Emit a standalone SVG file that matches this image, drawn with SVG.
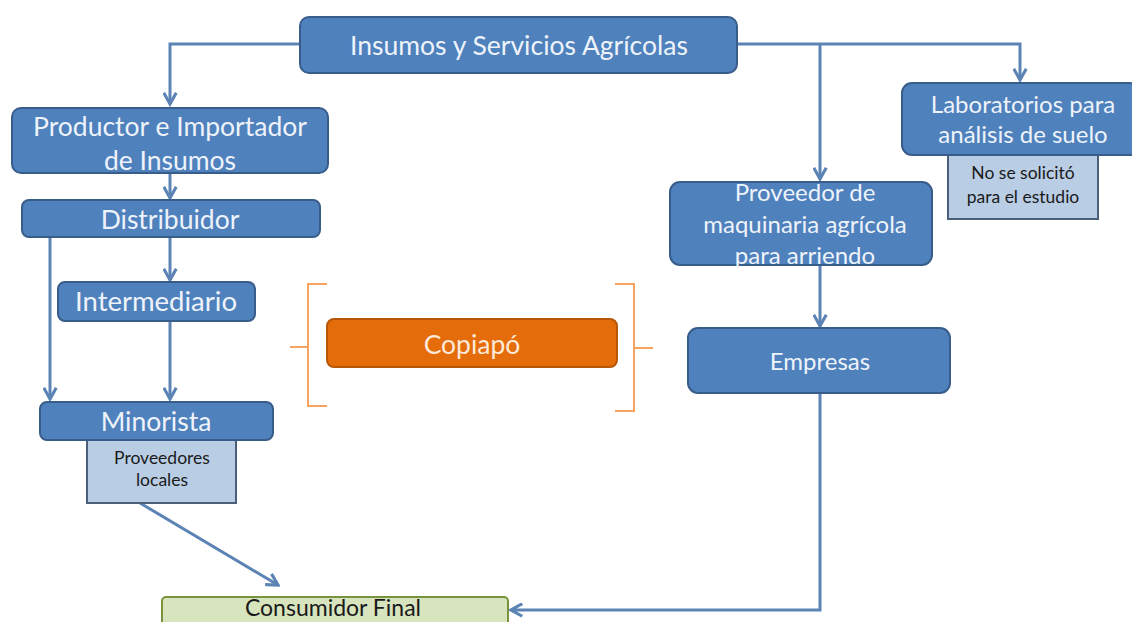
<svg xmlns="http://www.w3.org/2000/svg" width="1132" height="622" viewBox="0 0 1132 622">
<defs>
<style>
.box{fill:#4f81bd;stroke:#385d8a;stroke-width:2}
.sub{fill:#b9cde5;stroke:#4a5f7a;stroke-width:2}
.t{font-family:Lato,"Open Sans",sans-serif;fill:#eef3fa;text-anchor:middle;font-size:26.5px}
.r{font-size:24px}
.s{font-family:Lato,"Open Sans",sans-serif;fill:#1a1a1a;text-anchor:middle;font-size:17.5px}
.c{fill:none;stroke:#5b84b5;stroke-width:3}
.br{fill:none;stroke:#f4a460;stroke-width:2}
</style>
<marker id="a" viewBox="0 0 12 12" refX="10" refY="6" markerWidth="5" markerHeight="5" orient="auto" markerUnits="strokeWidth">
<polyline points="1,1 10,6 1,11" fill="none" stroke="#5b84b5" stroke-width="2.5"/>
</marker>
</defs>
<rect width="1132" height="622" fill="#fff"/>
<g id="connectors">
<polyline class="c" points="300,44 170,44 170,104" marker-end="url(#a)"/>
<polyline class="c" points="170,173 170,198" marker-end="url(#a)"/>
<polyline class="c" points="170,237 170,280" marker-end="url(#a)"/>
<polyline class="c" points="50,237 50,399" marker-end="url(#a)"/>
<polyline class="c" points="170,321 170,399" marker-end="url(#a)"/>
<polyline class="c" points="737,44 1020,44 1020,80" marker-end="url(#a)"/>
<polyline class="c" points="820,44 820,179" marker-end="url(#a)"/>
<polyline class="c" points="820,265 820,326" marker-end="url(#a)"/>
<polyline class="c" points="820,393 820,610 511,610" marker-end="url(#a)"/>
<line class="c" x1="140" y1="503" x2="278" y2="585" marker-end="url(#a)"/>
</g>
<g id="insumos">
<rect class="box" x="300" y="17" width="437" height="56" rx="9"/>
<text class="t" x="519" y="55">Insumos y Servicios Agrícolas</text>
</g>
<g id="productor">
<rect class="box" x="12" y="108" width="316" height="65" rx="9"/>
<text class="t" x="170" y="136">Productor e Importador</text>
<text class="t" x="170" y="170">de Insumos</text>
</g>
<g id="distribuidor">
<rect class="box" x="22" y="200" width="298" height="37" rx="7"/>
<text class="t" x="170" y="229">Distribuidor</text>
</g>
<g id="intermediario">
<rect class="box" x="58" y="282" width="197" height="39" rx="7"/>
<text class="t" x="156" y="311" style="font-size:27.5px">Intermediario</text>
</g>
<g id="minorista">
<rect class="sub" x="87" y="440" width="149" height="63"/>
<text class="s" x="162" y="464">Proveedores</text>
<text class="s" x="162" y="486">locales</text>
<rect class="box" x="40" y="402" width="233" height="38" rx="7"/>
<text class="t" x="156" y="431">Minorista</text>
</g>
<g id="copiapo">
<polyline class="br" points="327,284 308,284 308,406 327,406"/>
<line class="br" x1="290" y1="347" x2="308" y2="347"/>
<polyline class="br" points="615,284 634,284 634,411 615,411"/>
<line class="br" x1="634" y1="348" x2="653" y2="348"/>
<rect x="327" y="319" width="290" height="48" rx="7" fill="#e46c0a" stroke="#b65708" stroke-width="2"/>
<text class="t" x="472" y="354" style="fill:#fde9d9">Copiapó</text>
</g>
<g id="laboratorios">
<rect class="sub" x="948" y="155" width="150" height="64"/>
<text class="s" x="1023" y="179">No se solicitó</text>
<text class="s" x="1023" y="203">para el estudio</text>
<rect class="box" x="902" y="83" width="238" height="72" rx="10"/>
<text class="t r" x="1023" y="113">Laboratorios para</text>
<text class="t r" x="1023" y="143">análisis de suelo</text>
</g>
<g id="proveedor">
<rect class="box" x="670" y="182" width="262" height="83" rx="10"/>
<text class="t r" x="805" y="201">Proveedor de</text>
<text class="t r" x="805" y="233">maquinaria agrícola</text>
<text class="t r" x="805" y="264">para arriendo</text>
</g>
<g id="empresas">
<rect class="box" x="688" y="328" width="262" height="65" rx="10"/>
<text class="t r" x="820" y="370">Empresas</text>
</g>
<g id="consumidor">
<rect x="162" y="597" width="346" height="40" rx="4" fill="#d7e4bd" stroke="#77933c" stroke-width="2"/>
<text class="t" x="333" y="616" style="fill:#1a1a1a;font-size:23px">Consumidor Final</text>
</g>
</svg>
